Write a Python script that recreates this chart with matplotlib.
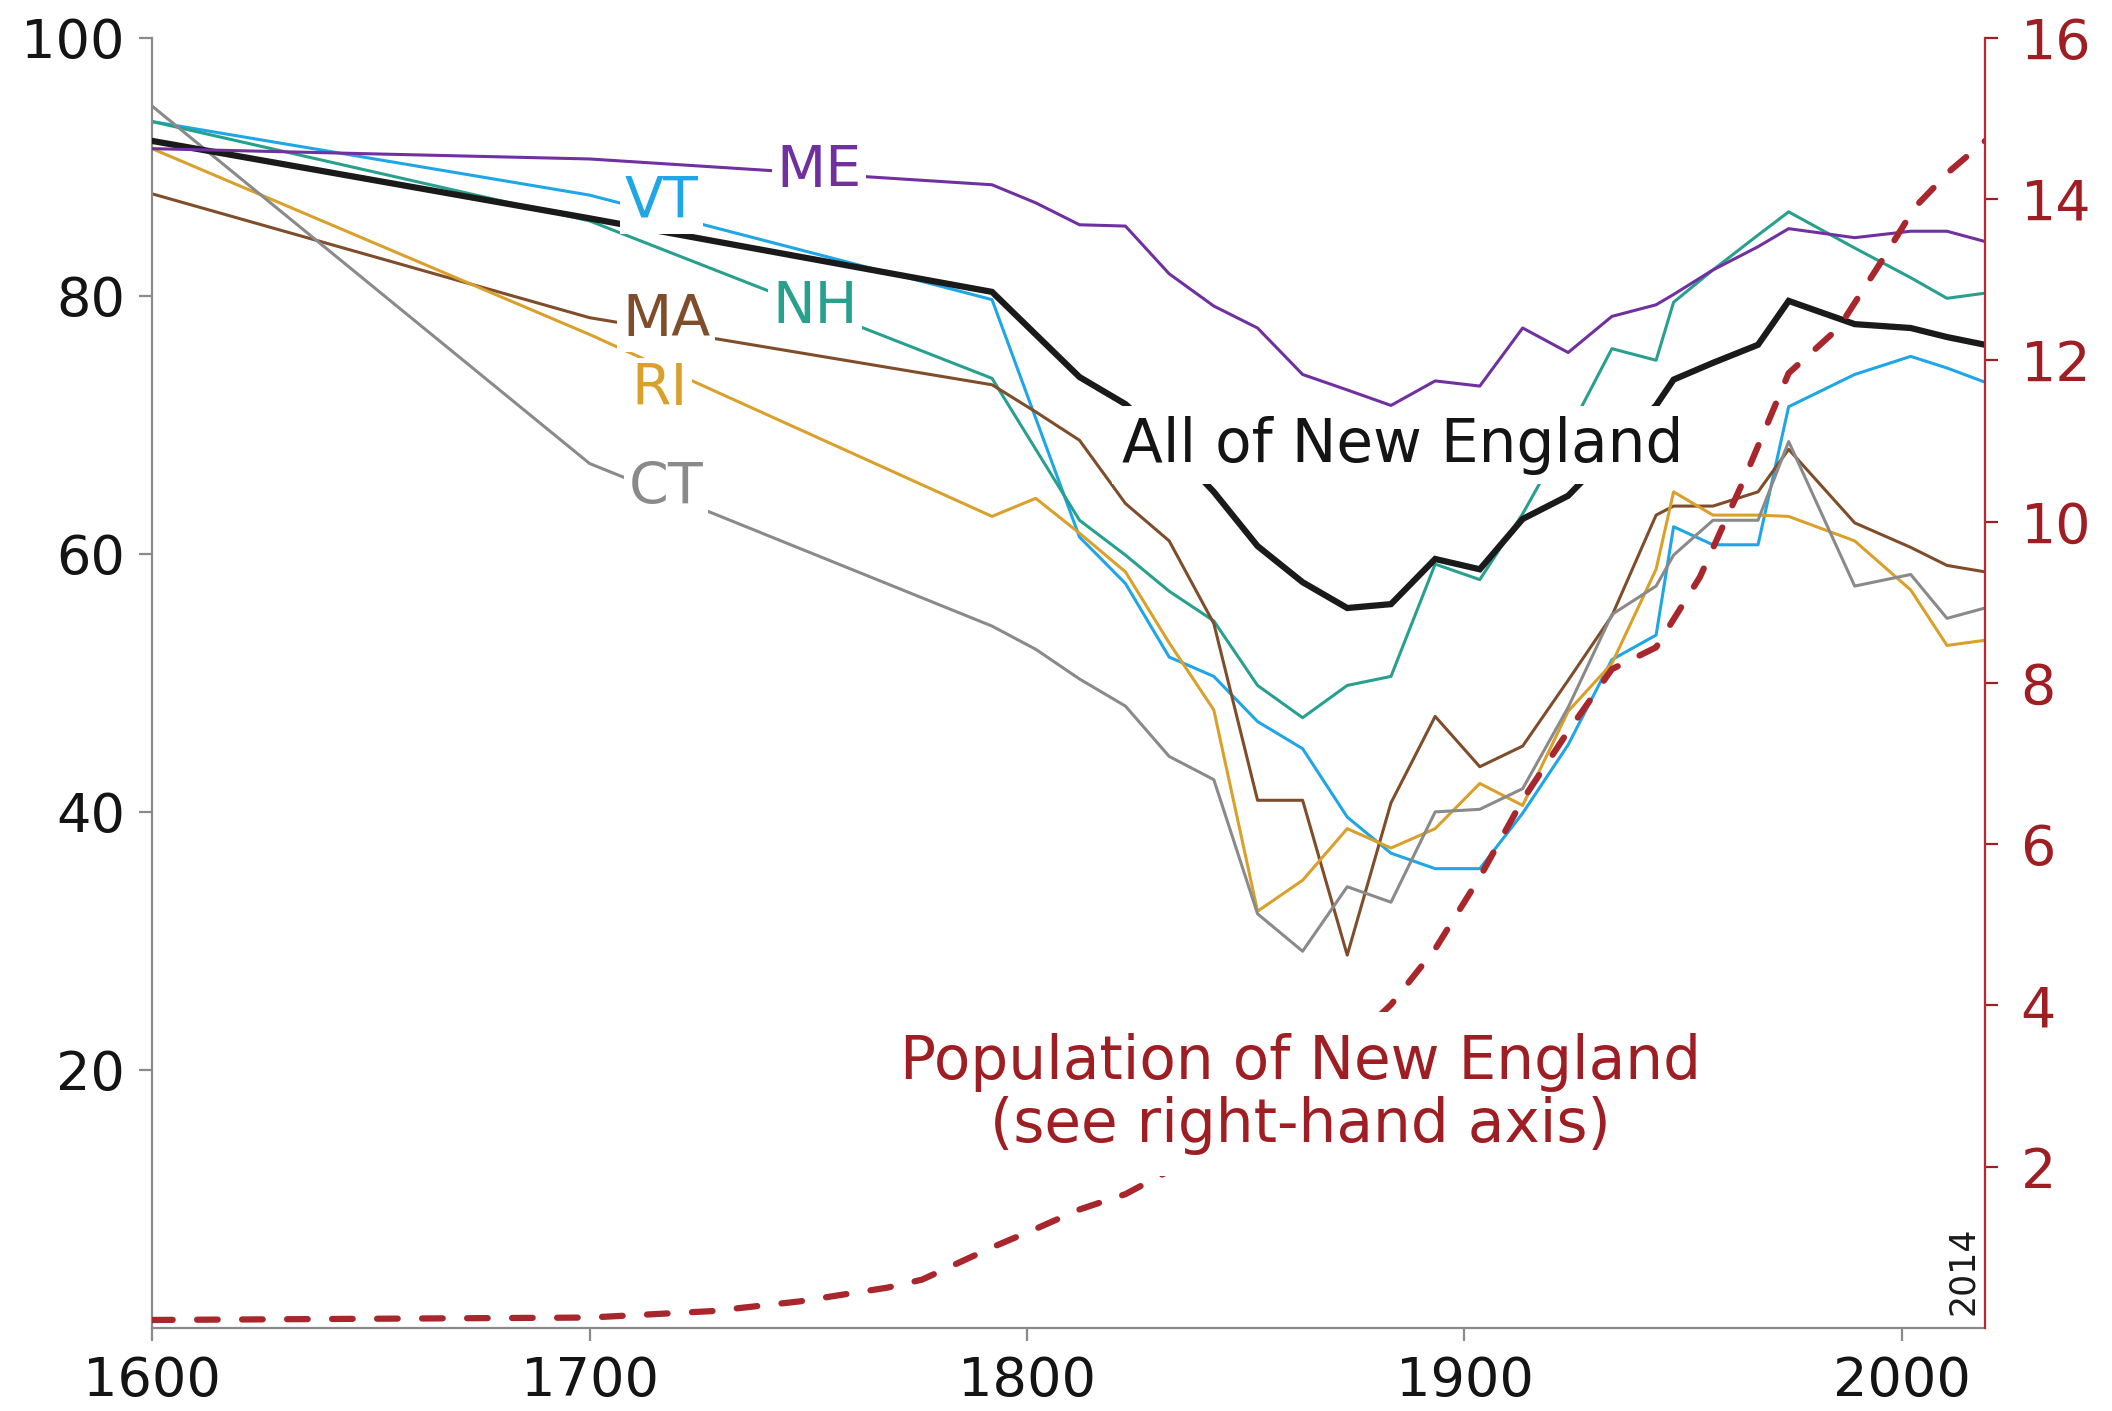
import matplotlib.pyplot as plt

# x positions of the data points as they sit on the time axis
years = [1600, 1700, 1792, 1802, 1812, 1822.5, 1832.5, 1842.7, 1852.7, 1863, 1873.2,
         1883.2, 1893.3, 1903.5, 1913.3, 1923.7, 1933.7, 1943.8, 1947.8, 1956.8,
         1967.1, 1974.1, 1989.2, 2002, 2010.3, 2019]

all_ne = [92.0, 86.0, 80.3, 77.0, 73.7, 71.6, 68.5, 64.8, 60.6, 57.8, 55.8, 56.1, 59.6,
          58.8, 62.7, 64.5, 68.0, 71.5, 73.5, 74.8, 76.2, 79.6, 77.8, 77.5, 76.8, 76.2]
me = [91.4, 90.6, 88.6, 87.2, 85.5, 85.4, 81.7, 79.2, 77.5, 73.9, 72.7, 71.5, 73.4,
      73.0, 77.5, 75.6, 78.4, 79.3, 80.1, 82.0, 83.8, 85.2, 84.5, 85.0, 85.0, 84.2]
vt = [93.5, 87.8, 79.7, 70.5, 61.3, 57.7, 52.0, 50.5, 47.0, 44.9, 39.6, 36.8, 35.6,
      35.6, 39.9, 45.2, 51.8, 53.7, 62.1, 60.7, 60.7, 71.4, 73.9, 75.3, 74.4, 73.3]
nh = [93.5, 85.8, 73.6, 68.1, 62.6, 59.9, 57.1, 54.8, 49.8, 47.3, 49.8, 50.5, 59.2,
      58.0, 63.1, 69.4, 75.9, 75.0, 79.5, 82.0, 84.7, 86.5, 83.7, 81.4, 79.8, 80.2]
ma = [87.9, 78.3, 73.1, 71.0, 68.8, 63.9, 61.0, 54.6, 40.9, 40.9, 28.9, 40.7, 47.4,
      43.5, 45.1, 50.2, 55.2, 63.0, 63.7, 63.7, 64.8, 68.1, 62.4, 60.5, 59.1, 58.6]
ri = [91.4, 77.0, 62.9, 64.3, 61.6, 58.6, 53.1, 47.9, 32.3, 34.7, 38.7, 37.2, 38.7,
      42.2, 40.5, 47.8, 51.5, 58.8, 64.8, 63.0, 63.0, 62.9, 61.0, 57.2, 52.9, 53.3]
ct = [94.7, 67.0, 54.4, 52.6, 50.3, 48.2, 44.3, 42.5, 32.1, 29.2, 34.2, 33.0, 40.0,
      40.2, 41.8, 48.1, 55.3, 57.5, 59.9, 62.6, 62.6, 68.7, 57.5, 58.4, 55.0, 55.8]

# population of New England (millions, right-hand axis)
pop_years = [1600, 1700, 1728, 1748, 1768, 1776, 1792, 1802, 1812, 1822.5, 1832.5,
             1842.7, 1852.7, 1863, 1873.2, 1883.2, 1893.3, 1903.5, 1913.3, 1923.7,
             1933.7, 1943.8, 1953.8, 1963.8, 1974.1, 1985.5, 1995, 2003, 2011, 2019]
pop = [0.1, 0.13, 0.21, 0.33, 0.5, 0.6, 1.0, 1.23, 1.47, 1.66, 1.95, 2.23, 2.73, 3.13,
       3.49, 4.01, 4.70, 5.59, 6.55, 7.40, 8.17, 8.44, 9.31, 10.51, 11.84, 12.4, 13.2,
       13.9, 14.35, 14.72]

states = ["ME", "VT", "NH", "MA", "RI", "CT"]
state_values = [me, vt, nh, ma, ri, ct]
state_colors = ["#7030a0", "#1ea6e6", "#27a08e", "#7f4d2a", "#d9a12b", "#8a8a8a"]
# label anchor points (year, value)
label_pos = [(1752.5, 89.6), (1716.5, 87.3), (1751.5, 79.1), (1717.5, 78.1),
             (1716.0, 72.7), (1717.5, 65.1)]

gray = "#8a8a8a"
red_axis = "#c0272d"
red_text = "#9e1e23"

fig = plt.figure(figsize=(21.12, 14.11), dpi=100)
ax = fig.add_axes([0.072, 0.0588, 0.8679, 0.9145])

for vals, col in zip(state_values, state_colors):
    # ME runs just above the "All of New England" box, keep it on top of it
    z = 5 if col == "#7030a0" else 2
    ax.plot(years, vals, color=col, lw=2.2, zorder=z)
ax.plot(years, all_ne, color="#1a1a1a", lw=4.5, zorder=3, solid_joinstyle="miter")

box = dict(boxstyle="square,pad=0.08", fc="white", ec="none")
for name, col, (lx, ly) in zip(states, state_colors, label_pos):
    ax.text(lx, ly, name, color=col, fontsize=41, ha="center", va="center",
            bbox=box, zorder=6)

ax.text(1885.8, 68.4, "All of New England", color="#141414", fontsize=43,
        ha="center", va="center", zorder=4,
        bbox=dict(boxstyle="square,pad=0.16", fc="white", ec="none"))

ax.text(2014, 1.0, "2014", rotation=90, fontsize=25, ha="center", va="bottom",
        color="#1a1a1a")

ax.set_xlim(1600, 2019)
ax.set_ylim(0, 100)
ax.set_xticks([1600, 1700, 1800, 1900, 2000])
ax.set_yticks([20, 40, 60, 80, 100])
ax.tick_params(axis="both", direction="out", length=9.5, width=1.6, color=gray,
               labelsize=39, labelcolor="#141414")
ax.tick_params(axis="x", pad=10)
ax.tick_params(axis="y", pad=10)
for s in ["top", "right"]:
    ax.spines[s].set_visible(False)
for s in ["left", "bottom"]:
    ax.spines[s].set_color(gray)
    ax.spines[s].set_linewidth(1.6)

ax2 = ax.twinx()
ax2.plot(pop_years, pop, color="#a8272d", lw=4.5, dashes=(3.3, 3.9),
         dash_capstyle="round", zorder=2)
ax2.text(1862.5, 2.9, "Population of New England\n(see right-hand axis)",
         color=red_text, fontsize=43, ha="center", va="center", linespacing=1.1,
         zorder=4, bbox=dict(boxstyle="square,pad=0.35", fc="white", ec="none"))
ax2.set_ylim(0, 16)
ax2.set_yticks(range(2, 17, 2))
ax2.tick_params(axis="y", direction="out", length=9.5, width=1.6, color=red_text,
                labelsize=40, labelcolor=red_text, pad=16)
for s in ["top", "left", "bottom"]:
    ax2.spines[s].set_visible(False)
ax2.spines["right"].set_color(red_axis)
ax2.spines["right"].set_linewidth(1.6)

fig.savefig("out.png", dpi=100)
